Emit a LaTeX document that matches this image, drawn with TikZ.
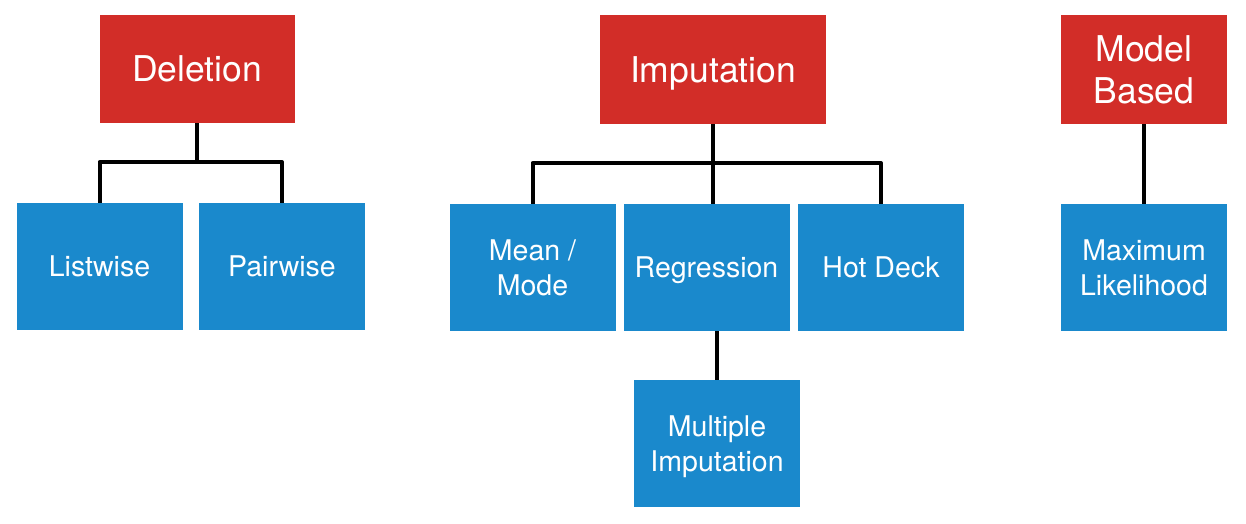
\documentclass[tikz,border=0pt]{standalone}
\usepackage{fontspec}
\setmainfont{TeX Gyre Heros}
\definecolor{hdred}{RGB}{210,45,40}
\definecolor{leafblue}{RGB}{26,137,204}
\begin{document}
\begin{tikzpicture}[x=1pt,y=-1pt,
  header/.style={fill=hdred,text=white,inner sep=0pt,align=center,text depth=-4pt,font=\fontsize{35.5}{42}\selectfont},
  leaf/.style={fill=leafblue,text=white,inner sep=0pt,align=center,text depth=-4pt,minimum width=166pt,minimum height=127pt,font=\fontsize{28.5}{35}\selectfont},
  oneheader/.style={text height=25.5pt,text depth=0pt},
  oneleaf/.style={text height=20.5pt,text depth=0pt},
  conn/.style={line width=4pt,line join=round,draw=black}]
\useasboundingbox (0,0) rectangle (1246,524);
% headers
\node[header,oneheader,minimum width=195pt,minimum height=108pt] (del) at (197,69) {Deletion};
\node[header,oneheader,minimum width=226pt,minimum height=109pt] (imp) at (713,69.5) {Imputation};
\node[header,minimum width=166pt,minimum height=109pt] (mod) at (1144,69.5) {Model\\Based};
% leaves
\node[leaf,oneleaf] (list) at (99.5,266.5) {Listwise};
\node[leaf,oneleaf] (pair) at (282,266.5) {Pairwise};
\node[leaf] (mean) at (532.5,267.5) {Mean /\\Mode};
\node[leaf,oneleaf] (reg) at (706.5,267.5) {Regression};
\node[leaf,oneleaf] (hot) at (881,267.5) {Hot Deck};
\node[leaf] (mult) at (717,443.5) {Multiple\\Imputation};
\node[leaf] (ml) at (1144,267.5) {Maximum\\Likelihood};
% junctions
\coordinate (dj) at (197,162);
\coordinate (ij) at (713,163);
% connectors
\draw[conn] (del.south) -- (dj);
\draw[conn] (list.north) |- (dj) -| (pair.north);
\draw[conn] (imp.south) -- (ij);
\draw[conn] (mean.north) |- (ij) -| (hot.north);
\draw[conn] (ij) -- (ij |- reg.north);
\draw[conn] (mult.north) -- (mult.north |- reg.south);
\draw[conn] (mod.south) -- (ml.north);
\end{tikzpicture}
\end{document}
